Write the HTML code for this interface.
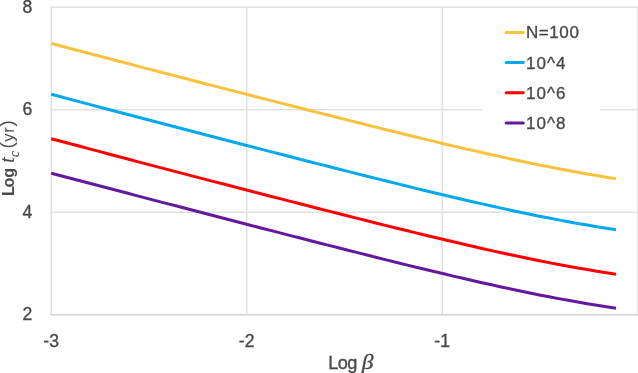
<!DOCTYPE html>
<html><head><meta charset="utf-8"><style>
html,body{margin:0;padding:0;background:#fff;}
body{width:638px;height:373px;overflow:hidden;position:relative;}
svg{position:absolute;left:0;top:0;display:block;will-change:transform;}
svg text{font-family:"Liberation Sans",sans-serif;fill:#4A4A4A;stroke:#4A4A4A;stroke-width:0.35px;}
</style></head><body>
<svg width="638" height="373" viewBox="0 0 638 373">
<rect width="638" height="373" fill="#fff"/>
<g>
<line x1="50.50" y1="7.25" x2="640" y2="7.25" stroke="#E1E1E1" stroke-width="1.5"/><line x1="50.50" y1="109.70" x2="640" y2="109.70" stroke="#E1E1E1" stroke-width="1.5"/><line x1="50.50" y1="212.15" x2="640" y2="212.15" stroke="#E1E1E1" stroke-width="1.5"/><line x1="51.25" y1="6.50" x2="51.25" y2="314.70" stroke="#E1E1E1" stroke-width="1.5"/><line x1="246.75" y1="6.50" x2="246.75" y2="314.70" stroke="#E1E1E1" stroke-width="1.5"/><line x1="442.25" y1="6.50" x2="442.25" y2="314.70" stroke="#E1E1E1" stroke-width="1.5"/><line x1="637.75" y1="6.50" x2="637.75" y2="314.70" stroke="#E1E1E1" stroke-width="1.5"/><line x1="50.50" y1="314.70" x2="640" y2="314.70" stroke="#D3D3D3" stroke-width="1.5"/>
<rect x="482" y="9.5" width="118" height="128" fill="#fff"/>
<path d="M51.25,43.46 L60.82,45.95 L70.39,48.47 L79.97,50.99 L89.54,53.51 L99.11,56.02 L108.68,58.54 L118.25,61.05 L127.83,63.57 L137.40,66.08 L146.97,68.60 L156.54,71.07 L166.11,73.55 L175.69,76.02 L185.26,78.49 L194.83,80.97 L204.40,83.44 L213.97,85.90 L223.55,88.37 L233.12,90.84 L242.69,93.30 L252.26,95.76 L261.83,98.22 L271.41,100.67 L280.98,103.12 L290.55,105.57 L300.12,108.01 L309.69,110.45 L319.27,112.89 L328.84,115.31 L338.41,117.74 L347.98,120.15 L357.56,122.56 L367.13,124.95 L376.70,127.34 L386.27,129.72 L395.84,132.08 L405.42,134.43 L414.99,136.77 L424.56,139.09 L434.13,141.39 L443.70,143.67 L453.28,145.93 L462.85,148.17 L472.42,150.38 L481.99,152.56 L491.56,154.71 L501.14,156.83 L510.71,158.92 L520.28,160.96 L529.85,162.96 L539.42,164.92 L549.00,166.83 L558.57,168.70 L568.14,170.51 L577.71,172.26 L587.28,173.96 L596.86,175.60 L606.43,177.17 L616.00,178.69" stroke="#F8C23C" stroke-width="3.0" fill="none" stroke-linejoin="round"/><path d="M51.25,94.31 L60.82,96.82 L70.39,99.35 L79.97,101.88 L89.54,104.41 L99.11,106.94 L108.68,109.47 L118.25,111.99 L127.83,114.52 L137.40,117.05 L146.97,119.57 L156.54,122.07 L166.11,124.56 L175.69,127.05 L185.26,129.53 L194.83,132.02 L204.40,134.51 L213.97,136.99 L223.55,139.47 L233.12,141.95 L242.69,144.43 L252.26,146.90 L261.83,149.38 L271.41,151.84 L280.98,154.31 L290.55,156.77 L300.12,159.23 L309.69,161.68 L319.27,164.12 L328.84,166.56 L338.41,169.00 L347.98,171.42 L357.56,173.84 L367.13,176.25 L376.70,178.64 L386.27,181.03 L395.84,183.40 L405.42,185.76 L414.99,188.10 L424.56,190.42 L434.13,192.73 L443.70,195.01 L453.28,197.27 L462.85,199.51 L472.42,201.72 L481.99,203.90 L491.56,206.04 L501.14,208.15 L510.71,210.22 L520.28,212.25 L529.85,214.24 L539.42,216.17 L549.00,218.06 L558.57,219.90 L568.14,221.68 L577.71,223.40 L587.28,225.06 L596.86,226.65 L606.43,228.18 L616.00,229.65" stroke="#02A9EC" stroke-width="3.0" fill="none" stroke-linejoin="round"/><path d="M51.25,138.69 L60.82,141.21 L70.39,143.76 L79.97,146.31 L89.54,148.87 L99.11,151.42 L108.68,153.97 L118.25,156.52 L127.83,159.07 L137.40,161.62 L146.97,164.17 L156.54,166.66 L166.11,169.15 L175.69,171.64 L185.26,174.13 L194.83,176.61 L204.40,179.10 L213.97,181.58 L223.55,184.06 L233.12,186.54 L242.69,189.02 L252.26,191.49 L261.83,193.96 L271.41,196.43 L280.98,198.89 L290.55,201.35 L300.12,203.81 L309.69,206.26 L319.27,208.70 L328.84,211.14 L338.41,213.57 L347.98,216.00 L357.56,218.41 L367.13,220.82 L376.70,223.21 L386.27,225.60 L395.84,227.97 L405.42,230.32 L414.99,232.66 L424.56,234.99 L434.13,237.29 L443.70,239.57 L453.28,241.83 L462.85,244.07 L472.42,246.27 L481.99,248.45 L491.56,250.59 L501.14,252.70 L510.71,254.77 L520.28,256.80 L529.85,258.78 L539.42,260.72 L549.00,262.61 L558.57,264.44 L568.14,266.22 L577.71,267.93 L587.28,269.59 L596.86,271.19 L606.43,272.71 L616.00,274.18" stroke="#FF0000" stroke-width="3.0" fill="none" stroke-linejoin="round"/><path d="M51.25,173.21 L60.82,175.72 L70.39,178.23 L79.97,180.75 L89.54,183.26 L99.11,185.78 L108.68,188.29 L118.25,190.81 L127.83,193.32 L137.40,195.83 L146.97,198.34 L156.54,200.84 L166.11,203.33 L175.69,205.82 L185.26,208.32 L194.83,210.81 L204.40,213.29 L213.97,215.78 L223.55,218.27 L233.12,220.75 L242.69,223.23 L252.26,225.71 L261.83,228.18 L271.41,230.65 L280.98,233.12 L290.55,235.59 L300.12,238.04 L309.69,240.50 L319.27,242.95 L328.84,245.39 L338.41,247.82 L347.98,250.25 L357.56,252.67 L367.13,255.07 L376.70,257.47 L386.27,259.86 L395.84,262.23 L405.42,264.59 L414.99,266.93 L424.56,269.25 L434.13,271.55 L443.70,273.83 L453.28,276.09 L462.85,278.32 L472.42,280.52 L481.99,282.69 L491.56,284.83 L501.14,286.93 L510.71,288.99 L520.28,291.01 L529.85,292.98 L539.42,294.91 L549.00,296.78 L558.57,298.60 L568.14,300.35 L577.71,302.05 L587.28,303.69 L596.86,305.26 L606.43,306.76 L616.00,308.20" stroke="#64189C" stroke-width="3.0" fill="none" stroke-linejoin="round"/>
<g font-size="17.6"><text x="32.2" y="12.95" text-anchor="end">8</text><text x="32.2" y="115.40" text-anchor="end">6</text><text x="32.2" y="217.85" text-anchor="end">4</text><text x="32.2" y="320.30" text-anchor="end">2</text><text x="51.15" y="346.8" text-anchor="middle">-3</text><text x="246.65" y="346.8" text-anchor="middle">-2</text><text x="442.15" y="346.8" text-anchor="middle">-1</text></g>
<g font-size="17.0"><line x1="506.2" y1="32.40" x2="523.3" y2="32.40" stroke="#F8C23C" stroke-width="3.0" stroke-linecap="round"/><text x="525.9" y="38.40" letter-spacing="0.6">N=100</text><line x1="506.2" y1="62.60" x2="523.3" y2="62.60" stroke="#02A9EC" stroke-width="3.0" stroke-linecap="round"/><text x="525.9" y="68.60" letter-spacing="1.1">10^4</text><line x1="506.2" y1="92.80" x2="523.3" y2="92.80" stroke="#FF0000" stroke-width="3.0" stroke-linecap="round"/><text x="525.9" y="98.80" letter-spacing="1.1">10^6</text><line x1="506.2" y1="123.00" x2="523.3" y2="123.00" stroke="#64189C" stroke-width="3.0" stroke-linecap="round"/><text x="525.9" y="129.00" letter-spacing="1.1">10^8</text></g>
<text x="328.2" y="368.8" font-size="18.2" letter-spacing="-0.6">Log</text>
<text transform="translate(361.8,368.8) scale(1.15,1)" style="font-family:'Liberation Serif',serif" font-style="italic" font-size="20.5">&#946;</text>
<g transform="translate(13.4,194.8) rotate(-90)">
<text x="-1.2 7.3 17.0" y="0.5" font-size="16.2" font-weight="bold" style="stroke-width:0">Log</text>
<text x="32.0" y="0.5" font-style="italic" font-size="20" style="stroke-width:0.15px;font-family:'Liberation Serif',serif">t</text>
<text x="37.6" y="5.9" font-style="italic" font-size="14.2" style="stroke-width:0.1px;font-family:'Liberation Serif',serif">c</text>
<text x="46.3" y="0" font-size="18.8" letter-spacing="0.6" style="stroke-width:0">(<tspan font-size="16.6" dy="0.8">yr</tspan><tspan dy="-0.8">)</tspan></text>
</g>
</g>
</svg>
</body></html>
